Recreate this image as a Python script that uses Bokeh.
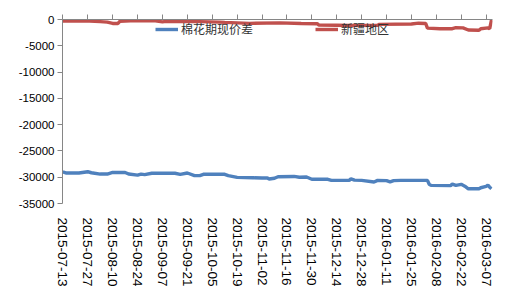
import pandas as pd
from bokeh.plotting import figure
from bokeh.models import (Range1d, FixedTicker, LinearAxis, DatetimeAxis, Legend, LegendItem,
                          DatetimeTickFormatter, ColumnDataSource)
from bokeh.embed import file_html
from bokeh.resources import INLINE

# ---- data ----
x_tick_labels = ["2015-07-13", "2015-07-27", "2015-08-10", "2015-08-24", "2015-09-07", "2015-09-21",
                 "2015-10-05", "2015-10-19", "2015-11-02", "2015-11-16", "2015-11-30", "2015-12-14",
                 "2015-12-28", "2016-01-11", "2016-01-25", "2016-02-08", "2016-02-22", "2016-03-07"]
y_ticks = [0, -5000, -10000, -15000, -20000, -25000, -30000, -35000]
y_tick_labels = ["0", "-5000", "-10000", "-15000", "-20000", "-25000", "-30000", "-35000"]

series_names = ["棉花期现价差", "新疆地区"]

blue_dates = ["2015-07-13", "2015-07-15", "2015-07-22", "2015-07-27", "2015-07-29", "2015-08-03",
              "2015-08-07", "2015-08-10", "2015-08-17", "2015-08-19", "2015-08-24", "2015-08-26",
              "2015-08-28", "2015-09-01", "2015-09-14", "2015-09-17", "2015-09-21", "2015-09-25",
              "2015-09-28", "2015-09-30", "2015-10-12", "2015-10-14", "2015-10-19", "2015-10-28",
              "2015-11-02", "2015-11-05", "2015-11-06", "2015-11-09", "2015-11-11", "2015-11-20",
              "2015-11-23", "2015-11-27", "2015-11-30", "2015-12-03", "2015-12-09", "2015-12-11",
              "2015-12-21", "2015-12-22", "2015-12-24", "2015-12-28", "2016-01-04", "2016-01-06",
              "2016-01-11", "2016-01-13", "2016-01-15", "2016-01-19", "2016-02-03", "2016-02-04",
              "2016-02-05", "2016-02-16", "2016-02-17", "2016-02-19", "2016-02-22", "2016-02-24",
              "2016-02-26", "2016-03-03", "2016-03-04", "2016-03-07", "2016-03-08", "2016-03-09",
              "2016-03-10"]
blue_values = [-29000, -29200, -29200, -28950, -29150, -29400,
               -29400, -29100, -29100, -29400, -29600, -29400,
               -29500, -29250, -29250, -29450, -29200, -29700,
               -29700, -29450, -29450, -29700, -30030, -30100,
               -30160, -30150, -30350, -30200, -29900, -29850,
               -30000, -29950, -30400, -30400, -30400, -30600,
               -30600, -30300, -30550, -30600, -30900, -30600,
               -30650, -30900, -30650, -30600, -30600, -31350,
               -31550, -31600, -31300, -31550, -31350, -31700,
               -32200, -32200, -32000, -31750, -31500, -31900,
               -32200]

red_dates = ["2015-07-13", "2015-07-28", "2015-08-03", "2015-08-07", "2015-08-10", "2015-08-13",
             "2015-08-14", "2015-08-20", "2015-09-03", "2015-09-07", "2015-09-09", "2015-09-28",
             "2015-10-09", "2015-10-12", "2015-10-26", "2015-11-12", "2015-11-24", "2015-12-03",
             "2015-12-04", "2015-12-14", "2015-12-22", "2016-01-06", "2016-01-07", "2016-01-25",
             "2016-01-29", "2016-02-02", "2016-02-03", "2016-02-10", "2016-02-17", "2016-02-19",
             "2016-02-23", "2016-02-26", "2016-03-03", "2016-03-04", "2016-03-08", "2016-03-09",
             "2016-03-10"]
red_values = [-300, -300, -400, -500, -750, -750,
              -350, -250, -250, -450, -350, -400,
              -500, -550, -730, -650, -750, -800,
              -1050, -1100, -1150, -1100, -920, -850,
              -700, -750, -1650, -1750, -1750, -1550,
              -1600, -2000, -2050, -1750, -1600, -1750,
              -100]

# ---- figure ----
x_start = pd.Timestamp("2015-07-13") - pd.Timedelta(hours=5)
x_end = pd.Timestamp("2016-03-10") + pd.Timedelta(hours=14)

p = figure(width=515, height=306, output_backend="svg", toolbar_location=None,
           x_axis_type=None, y_axis_type=None,
           x_range=Range1d(x_start, x_end), y_range=Range1d(-35000, 0),
           min_border_left=62, min_border_right=23, min_border_top=19, min_border_bottom=103)
p.outline_line_color = None
p.xgrid.visible = False
p.ygrid.visible = False
p.background_fill_color = "white"
p.border_fill_color = "white"

blue_src = ColumnDataSource(dict(x=pd.to_datetime(blue_dates), y=blue_values))
red_src = ColumnDataSource(dict(x=pd.to_datetime(red_dates), y=red_values))

r_blue = p.line("x", "y", source=blue_src, line_color="#4F81BD", line_width=3.4)
r_red = p.line("x", "y", source=red_src, line_color="#C0504D", line_width=3.4)

tick_ms = [pd.Timestamp(d).value // 10**6 for d in x_tick_labels]

axis_gray = "#868686"
label_font = "Liberation Sans"

# bottom axis: labels only
xb = DatetimeAxis(ticker=FixedTicker(ticks=tick_ms),
                  formatter=DatetimeTickFormatter(days="%Y-%m-%d", months="%Y-%m-%d",
                                                  years="%Y-%m-%d", hours="%Y-%m-%d"))
xb.axis_line_color = None
xb.major_tick_line_color = None
xb.minor_tick_line_color = None
xb.major_tick_out = 0
xb.major_tick_in = 0
xb.major_label_orientation = "vertical"
xb.major_label_standoff = 14
xb.major_label_text_font = label_font
xb.major_label_text_font_size = "13.5px"
xb.major_label_text_color = "#000000"
p.add_layout(xb, "below")

# top axis at y = 0 : line and ticks, no visible labels
xt = DatetimeAxis(ticker=FixedTicker(ticks=tick_ms))
xt.axis_line_color = axis_gray
xt.major_tick_line_color = axis_gray
xt.minor_tick_line_color = None
xt.major_tick_out = 5
xt.major_tick_in = 0
xt.major_label_text_font_size = "0px"
xt.major_label_standoff = 0
p.add_layout(xt, "above")

# left axis
yl = LinearAxis(ticker=FixedTicker(ticks=y_ticks))
yl.major_label_overrides = {t: s for t, s in zip(y_ticks, y_tick_labels)}
yl.axis_line_color = axis_gray
yl.major_tick_line_color = axis_gray
yl.minor_tick_line_color = None
yl.major_tick_out = 5
yl.major_tick_in = 0
yl.major_label_standoff = 3
yl.major_label_text_font = label_font
yl.major_label_text_font_size = "11.5px"
yl.major_label_text_color = "#000000"
p.add_layout(yl, "left")

legend = Legend(items=[LegendItem(label=series_names[0], renderers=[r_blue]),
                       LegendItem(label=series_names[1], renderers=[r_red])],
                location=(93, 166), orientation="horizontal",
                background_fill_alpha=0, border_line_alpha=0, padding=0, margin=0,
                spacing=62, glyph_width=23, glyph_height=16, label_height=16,
                label_standoff=3, label_text_font="Noto Sans CJK SC",
                label_text_font_size="12px", label_text_color="#333333")
p.add_layout(legend)

open("out.html", "w").write(file_html(p, INLINE))
